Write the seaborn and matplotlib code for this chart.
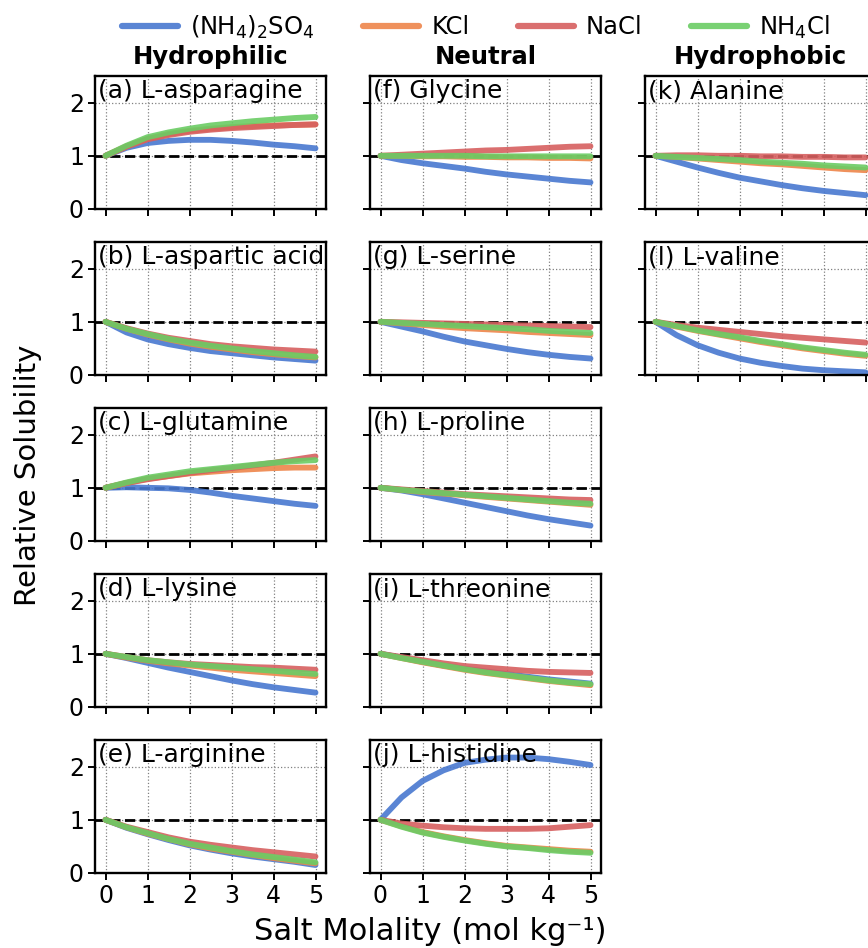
import numpy as np
import pandas as pd
import matplotlib
matplotlib.use("Agg")
import matplotlib.pyplot as plt
import seaborn as sns

# ---------------- data ----------------
molality = [0, 0.5, 1, 1.5, 2, 2.5, 3, 3.5, 4, 4.5, 5]
salts = ["(NH4)2SO4", "KCl", "NaCl", "NH4Cl"]
salt_labels = [r"(NH$_4$)$_2$SO$_4$", "KCl", "NaCl", r"NH$_4$Cl"]

asparagine = {
    "(NH4)2SO4": [1.00, 1.15, 1.24, 1.28, 1.30, 1.30, 1.28, 1.25, 1.21, 1.18, 1.14],
    "KCl":       [1.00, 1.18, 1.32, 1.41, 1.47, 1.51, 1.54, 1.56, 1.57, 1.58, 1.59],
    "NaCl":      [1.00, 1.17, 1.31, 1.39, 1.45, 1.49, 1.52, 1.54, 1.56, 1.58, 1.59],
    "NH4Cl":     [1.00, 1.19, 1.35, 1.44, 1.51, 1.57, 1.61, 1.65, 1.68, 1.71, 1.73],
}
aspartic_acid = {
    "(NH4)2SO4": [1.00, 0.80, 0.67, 0.58, 0.51, 0.45, 0.41, 0.37, 0.33, 0.30, 0.27],
    "KCl":       [1.00, 0.87, 0.76, 0.67, 0.59, 0.53, 0.48, 0.43, 0.39, 0.36, 0.33],
    "NaCl":      [1.00, 0.88, 0.78, 0.70, 0.64, 0.58, 0.54, 0.51, 0.48, 0.46, 0.44],
    "NH4Cl":     [1.00, 0.87, 0.77, 0.68, 0.61, 0.55, 0.50, 0.45, 0.41, 0.37, 0.34],
}
glutamine = {
    "(NH4)2SO4": [1.00, 1.01, 1.00, 0.99, 0.96, 0.91, 0.85, 0.80, 0.75, 0.70, 0.66],
    "KCl":       [1.00, 1.09, 1.17, 1.22, 1.27, 1.30, 1.33, 1.35, 1.37, 1.38, 1.38],
    "NaCl":      [1.00, 1.09, 1.16, 1.22, 1.28, 1.33, 1.37, 1.42, 1.47, 1.53, 1.59],
    "NH4Cl":     [1.00, 1.10, 1.19, 1.25, 1.31, 1.35, 1.39, 1.43, 1.47, 1.50, 1.52],
}
lysine = {
    "(NH4)2SO4": [1.00, 0.92, 0.83, 0.74, 0.66, 0.58, 0.50, 0.43, 0.37, 0.32, 0.27],
    "KCl":       [1.00, 0.93, 0.87, 0.82, 0.78, 0.74, 0.70, 0.67, 0.64, 0.61, 0.58],
    "NaCl":      [1.00, 0.94, 0.88, 0.84, 0.81, 0.79, 0.77, 0.75, 0.74, 0.72, 0.70],
    "NH4Cl":     [1.00, 0.94, 0.88, 0.84, 0.80, 0.77, 0.74, 0.71, 0.68, 0.65, 0.62],
}
arginine = {
    "(NH4)2SO4": [1.00, 0.85, 0.73, 0.62, 0.52, 0.44, 0.37, 0.31, 0.26, 0.21, 0.15],
    "KCl":       [1.00, 0.86, 0.74, 0.64, 0.54, 0.46, 0.40, 0.34, 0.28, 0.23, 0.18],
    "NaCl":      [1.00, 0.87, 0.77, 0.67, 0.59, 0.53, 0.48, 0.43, 0.39, 0.35, 0.31],
    "NH4Cl":     [1.00, 0.86, 0.75, 0.64, 0.55, 0.48, 0.41, 0.35, 0.30, 0.25, 0.20],
}
glycine = {
    "(NH4)2SO4": [1.00, 0.92, 0.86, 0.81, 0.76, 0.70, 0.65, 0.61, 0.57, 0.53, 0.50],
    "KCl":       [1.00, 1.00, 0.99, 0.99, 0.98, 0.98, 0.97, 0.97, 0.96, 0.96, 0.95],
    "NaCl":      [1.00, 1.02, 1.04, 1.06, 1.08, 1.10, 1.11, 1.13, 1.15, 1.17, 1.18],
    "NH4Cl":     [1.00, 1.00, 1.00, 1.00, 1.00, 0.99, 0.99, 0.99, 0.99, 0.99, 0.99],
}
serine = {
    "(NH4)2SO4": [1.00, 0.91, 0.82, 0.72, 0.63, 0.56, 0.49, 0.43, 0.38, 0.34, 0.31],
    "KCl":       [1.00, 0.97, 0.94, 0.91, 0.88, 0.86, 0.84, 0.81, 0.79, 0.77, 0.75],
    "NaCl":      [1.00, 0.99, 0.98, 0.97, 0.96, 0.95, 0.94, 0.93, 0.92, 0.91, 0.90],
    "NH4Cl":     [1.00, 0.98, 0.96, 0.94, 0.92, 0.90, 0.88, 0.86, 0.83, 0.81, 0.79],
}
proline = {
    "(NH4)2SO4": [1.00, 0.95, 0.88, 0.80, 0.72, 0.64, 0.56, 0.48, 0.41, 0.35, 0.29],
    "KCl":       [1.00, 0.96, 0.92, 0.89, 0.86, 0.83, 0.80, 0.77, 0.74, 0.71, 0.68],
    "NaCl":      [1.00, 0.97, 0.94, 0.91, 0.88, 0.86, 0.84, 0.82, 0.80, 0.78, 0.77],
    "NH4Cl":     [1.00, 0.96, 0.93, 0.90, 0.87, 0.84, 0.81, 0.78, 0.75, 0.72, 0.70],
}
threonine = {
    "(NH4)2SO4": [1.00, 0.93, 0.85, 0.78, 0.72, 0.67, 0.62, 0.57, 0.52, 0.48, 0.44],
    "KCl":       [1.00, 0.92, 0.84, 0.77, 0.70, 0.64, 0.59, 0.54, 0.49, 0.45, 0.41],
    "NaCl":      [1.00, 0.94, 0.88, 0.82, 0.77, 0.74, 0.71, 0.68, 0.66, 0.65, 0.64],
    "NH4Cl":     [1.00, 0.92, 0.85, 0.78, 0.71, 0.65, 0.60, 0.55, 0.50, 0.46, 0.43],
}
histidine = {
    "(NH4)2SO4": [1.00, 1.42, 1.73, 1.93, 2.07, 2.13, 2.17, 2.17, 2.14, 2.09, 2.03],
    "KCl":       [1.00, 0.88, 0.77, 0.69, 0.62, 0.56, 0.51, 0.48, 0.45, 0.42, 0.40],
    "NaCl":      [1.00, 0.93, 0.89, 0.86, 0.84, 0.83, 0.83, 0.83, 0.84, 0.87, 0.90],
    "NH4Cl":     [1.00, 0.87, 0.76, 0.68, 0.61, 0.55, 0.50, 0.47, 0.43, 0.40, 0.38],
}
alanine = {
    "(NH4)2SO4": [1.00, 0.89, 0.78, 0.68, 0.59, 0.52, 0.45, 0.39, 0.34, 0.30, 0.26],
    "KCl":       [1.00, 0.98, 0.95, 0.92, 0.89, 0.86, 0.84, 0.81, 0.78, 0.75, 0.73],
    "NaCl":      [1.00, 1.01, 1.01, 1.00, 1.00, 0.99, 0.99, 0.98, 0.98, 0.97, 0.97],
    "NH4Cl":     [1.00, 0.98, 0.96, 0.94, 0.92, 0.89, 0.87, 0.85, 0.82, 0.80, 0.78],
}
valine = {
    "(NH4)2SO4": [1.00, 0.75, 0.56, 0.42, 0.31, 0.23, 0.17, 0.12, 0.09, 0.07, 0.05],
    "KCl":       [1.00, 0.91, 0.83, 0.76, 0.69, 0.62, 0.56, 0.50, 0.45, 0.40, 0.36],
    "NaCl":      [1.00, 0.94, 0.89, 0.85, 0.81, 0.77, 0.73, 0.70, 0.67, 0.64, 0.61],
    "NH4Cl":     [1.00, 0.92, 0.84, 0.77, 0.71, 0.64, 0.58, 0.52, 0.47, 0.42, 0.38],
}

# (label, data, column, row)
panels = [
    ("(a) L-asparagine", asparagine, 0, 0),
    ("(b) L-aspartic acid", aspartic_acid, 0, 1),
    ("(c) L-glutamine", glutamine, 0, 2),
    ("(d) L-lysine", lysine, 0, 3),
    ("(e) L-arginine", arginine, 0, 4),
    ("(f) Glycine", glycine, 1, 0),
    ("(g) L-serine", serine, 1, 1),
    ("(h) L-proline", proline, 1, 2),
    ("(i) L-threonine", threonine, 1, 3),
    ("(j) L-histidine", histidine, 1, 4),
    ("(k) Alanine", alanine, 2, 0),
    ("(l) L-valine", valine, 2, 1),
]
column_titles = ["Hydrophilic", "Neutral", "Hydrophobic"]
x_ticks = [0, 1, 2, 3, 4, 5]
y_ticks = [0, 1, 2]

# ---------------- style ----------------
sns.set_style("ticks")
plt.rcParams["font.family"] = ["DejaVu Sans"]
plt.rcParams["text.color"] = "black"
plt.rcParams["axes.labelcolor"] = "black"
plt.rcParams["xtick.color"] = "black"
plt.rcParams["ytick.color"] = "black"
muted = sns.color_palette("muted")
palette = {"(NH4)2SO4": muted[0], "KCl": muted[1], "NaCl": muted[3], "NH4Cl": muted[2]}

W, H = 868, 948
fig = plt.figure(figsize=(W / 100, H / 100), dpi=100)

col_left = [95, 370, 645]
ax_w, ax_h = 231, 133
first_bottom, row_step = 209, 166

labelled_row = {0: 4, 1: 4, 2: -1}
handles = None
for label, data, col, row in panels:
    bottom = first_bottom + row_step * row
    ax = fig.add_axes([col_left[col] / W, 1 - bottom / H, ax_w / W, ax_h / H])
    df = pd.DataFrame(
        [(m, v, s) for s in salts for m, v in zip(molality, data[s])],
        columns=["Salt Molality", "Relative Solubility", "Salt"],
    )
    ax.axhline(1.0, color="black", ls="--", lw=2.0, zorder=1.5)
    sns.lineplot(data=df, x="Salt Molality", y="Relative Solubility", hue="Salt",
                 hue_order=salts, palette=palette, lw=4.2, alpha=0.9, ax=ax,
                 legend=(handles is None), zorder=2)
    if handles is None:
        handles, _ = ax.get_legend_handles_labels()
        ax.get_legend().remove()
    ax.set_xlim(-0.25, 5.25)
    ax.set_ylim(0, 2.5)
    ax.set_xticks(x_ticks)
    ax.set_yticks(y_ticks)
    ax.grid(True, ls=":", color="grey", lw=0.9)
    ax.set_axisbelow(True)
    ax.set_xlabel("")
    ax.set_ylabel("")
    for sp in ax.spines.values():
        sp.set_visible(True)
        sp.set_color("black")
        sp.set_linewidth(1.7)
    ax.tick_params(direction="out", length=5, width=1.4, labelsize=17, pad=3,
                   colors="black")
    if col != 0:
        ax.set_yticklabels([])
    if row != labelled_row[col]:
        ax.set_xticklabels([])
    ax.text(0.012, 0.975, label, transform=ax.transAxes, ha="left", va="top",
            fontsize=18, color="black")
    if row == 0:
        fig.text((col_left[col] + ax_w / 2) / W, 1 - 64 / H, column_titles[col],
                 ha="center", va="baseline", fontsize=17.5, fontweight="bold")

for h in handles:
    h.set_linewidth(4.5)
fig.legend(handles, salt_labels, loc="center", bbox_to_anchor=(476 / W, 1 - 27 / H),
           ncol=4, frameon=False, fontsize=17.5, handlelength=2.3,
           handletextpad=0.5, columnspacing=2.0)

fig.text(430 / W, 1 - 932 / H, "Salt Molality (mol kg\u207b\u00b9)", ha="center",
         va="center", fontsize=22)
fig.text(28 / W, 1 - 475 / H, "Relative Solubility", ha="center", va="center",
         rotation=90, fontsize=21)

fig.savefig("out.png", dpi=100)
